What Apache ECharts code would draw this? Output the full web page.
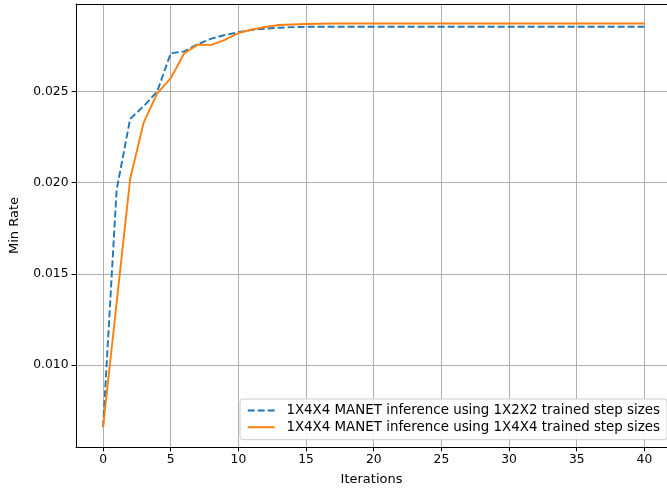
<!DOCTYPE html>
<html>
<head>
<meta charset="utf-8">
<script src="https://cdn.jsdelivr.net/npm/echarts@6/dist/echarts.min.js"></script>
<style>
html,body{margin:0;padding:0;background:#fff;}
#chart{width:667px;height:491px;}
</style>
</head>
<body>
<div id="chart"></div>
<script>
const iterations = [0,1,2,3,4,5,6,7,8,9,10,11,12,13,14,15,16,17,18,19,20,21,22,23,24,25,26,27,28,29,30,31,32,33,34,35,36,37,38,39,40];
const rate1x2x2 = [0.0066,0.0196,0.0235,0.0242,0.0250,0.0271,0.0272,0.0276,0.0279,0.0281,0.02825,0.02838,0.02845,0.0285,0.02853,
  0.02855,0.02855,0.02855,0.02855,0.02855,0.02855,0.02855,0.02855,0.02855,0.02855,0.02855,0.02855,0.02855,0.02855,0.02855,
  0.02855,0.02855,0.02855,0.02855,0.02855,0.02855,0.02855,0.02855,0.02855,0.02855,0.02855];
const rate1x4x4 = [0.0066,0.0134,0.0202,0.0233,0.0249,0.02573,0.0271,0.02757,0.02756,0.02783,0.0282,0.0284,0.02854,0.02865,0.02868,
  0.0287,0.02872,0.02873,0.02873,0.02873,0.02873,0.02873,0.02873,0.02873,0.02873,0.02873,0.02873,0.02873,0.02873,0.02873,
  0.02873,0.02873,0.02873,0.02873,0.02873,0.02873,0.02873,0.02873,0.02873,0.02873,0.02873];
const xTicks = [0,5,10,15,20,25,30,35,40];
const yTicks = [0.010,0.015,0.020,0.025];
const seriesNames = ['1X4X4 MANET inference using 1X2X2 trained step sizes','1X4X4 MANET inference using 1X4X4 trained step sizes'];

const font = 'DejaVu Sans';
const tickFs = 12.3;
const nameFs = 13;
const legendFs = 13.4;
const X_MIN = -2, X_MAX = 41.67;
const chart = echarts.init(document.getElementById('chart'), null, {renderer:'canvas'});
chart.setOption({
  animation:false,
  backgroundColor:'#fff',
  grid:{left:74.6, top:4, bottom:43.3, right:0, show:false},
  legend:{
    left:240, top:399, orient:'vertical',
    itemWidth:27, itemHeight:12, itemGap:3.7,
    padding:[5,7,6,6.7],
    backgroundColor:'rgba(255,255,255,0.85)', borderColor:'#cccccc', borderWidth:1, borderRadius:3,
    itemStyle:{opacity:0},
    textStyle:{fontFamily:font, fontSize:legendFs, lineHeight:13, color:'#000', padding:[0,0,0,6.7]},
    data:seriesNames
  },
  xAxis:[{
    type:'value', min:X_MIN, max:X_MAX,
    name:'Iterations', nameLocation:'middle', nameGap:26,
    nameTextStyle:{fontFamily:font, fontSize:nameFs, color:'#000'},
    axisLine:{show:true, onZero:false, lineStyle:{color:'#000', width:1}},
    axisTick:{show:true, length:4.4, customValues:xTicks, lineStyle:{color:'#000', width:1}},
    axisLabel:{customValues:xTicks, fontFamily:font, fontSize:tickFs, color:'#000', margin:6.5},
    splitLine:{show:true, lineStyle:{color:'#b0b0b0', width:1}}
  },{
    type:'value', position:'top', min:X_MIN, max:X_MAX,
    axisLine:{show:true, onZero:false, lineStyle:{color:'#000', width:1}},
    axisTick:{show:false}, axisLabel:{show:false}, splitLine:{show:false}
  }],
  yAxis:{
    type:'value', min:0.00551, max:0.0298,
    name:'Min Rate', nameLocation:'middle', nameGap:55, nameRotate:90,
    nameTextStyle:{fontFamily:font, fontSize:nameFs, color:'#000'},
    axisLine:{show:true, onZero:false, lineStyle:{color:'#000', width:1}},
    axisTick:{show:true, length:4.4, customValues:yTicks, lineStyle:{color:'#000', width:1}},
    axisLabel:{customValues:yTicks, fontFamily:font, fontSize:tickFs, color:'#000', margin:7.5, formatter:v=>v.toFixed(3)},
    splitLine:{show:true, lineStyle:{color:'#b0b0b0', width:1}}
  },
  series:[
    {name:seriesNames[0], type:'line', xAxisIndex:0, data:iterations.map((x,i)=>[x,rate1x2x2[i]]), showSymbol:false, symbol:'none',
     color:'#1f77b4', lineStyle:{color:'#1f77b4', width:1.9, type:[7,3]}, z:3},
    {name:seriesNames[1], type:'line', xAxisIndex:0, data:iterations.map((x,i)=>[x,rate1x4x4[i]]), showSymbol:false, symbol:'none',
     color:'#ff7f0e', lineStyle:{color:'#ff7f0e', width:1.9}, z:4}
  ]
});
</script>
</body>
</html>
